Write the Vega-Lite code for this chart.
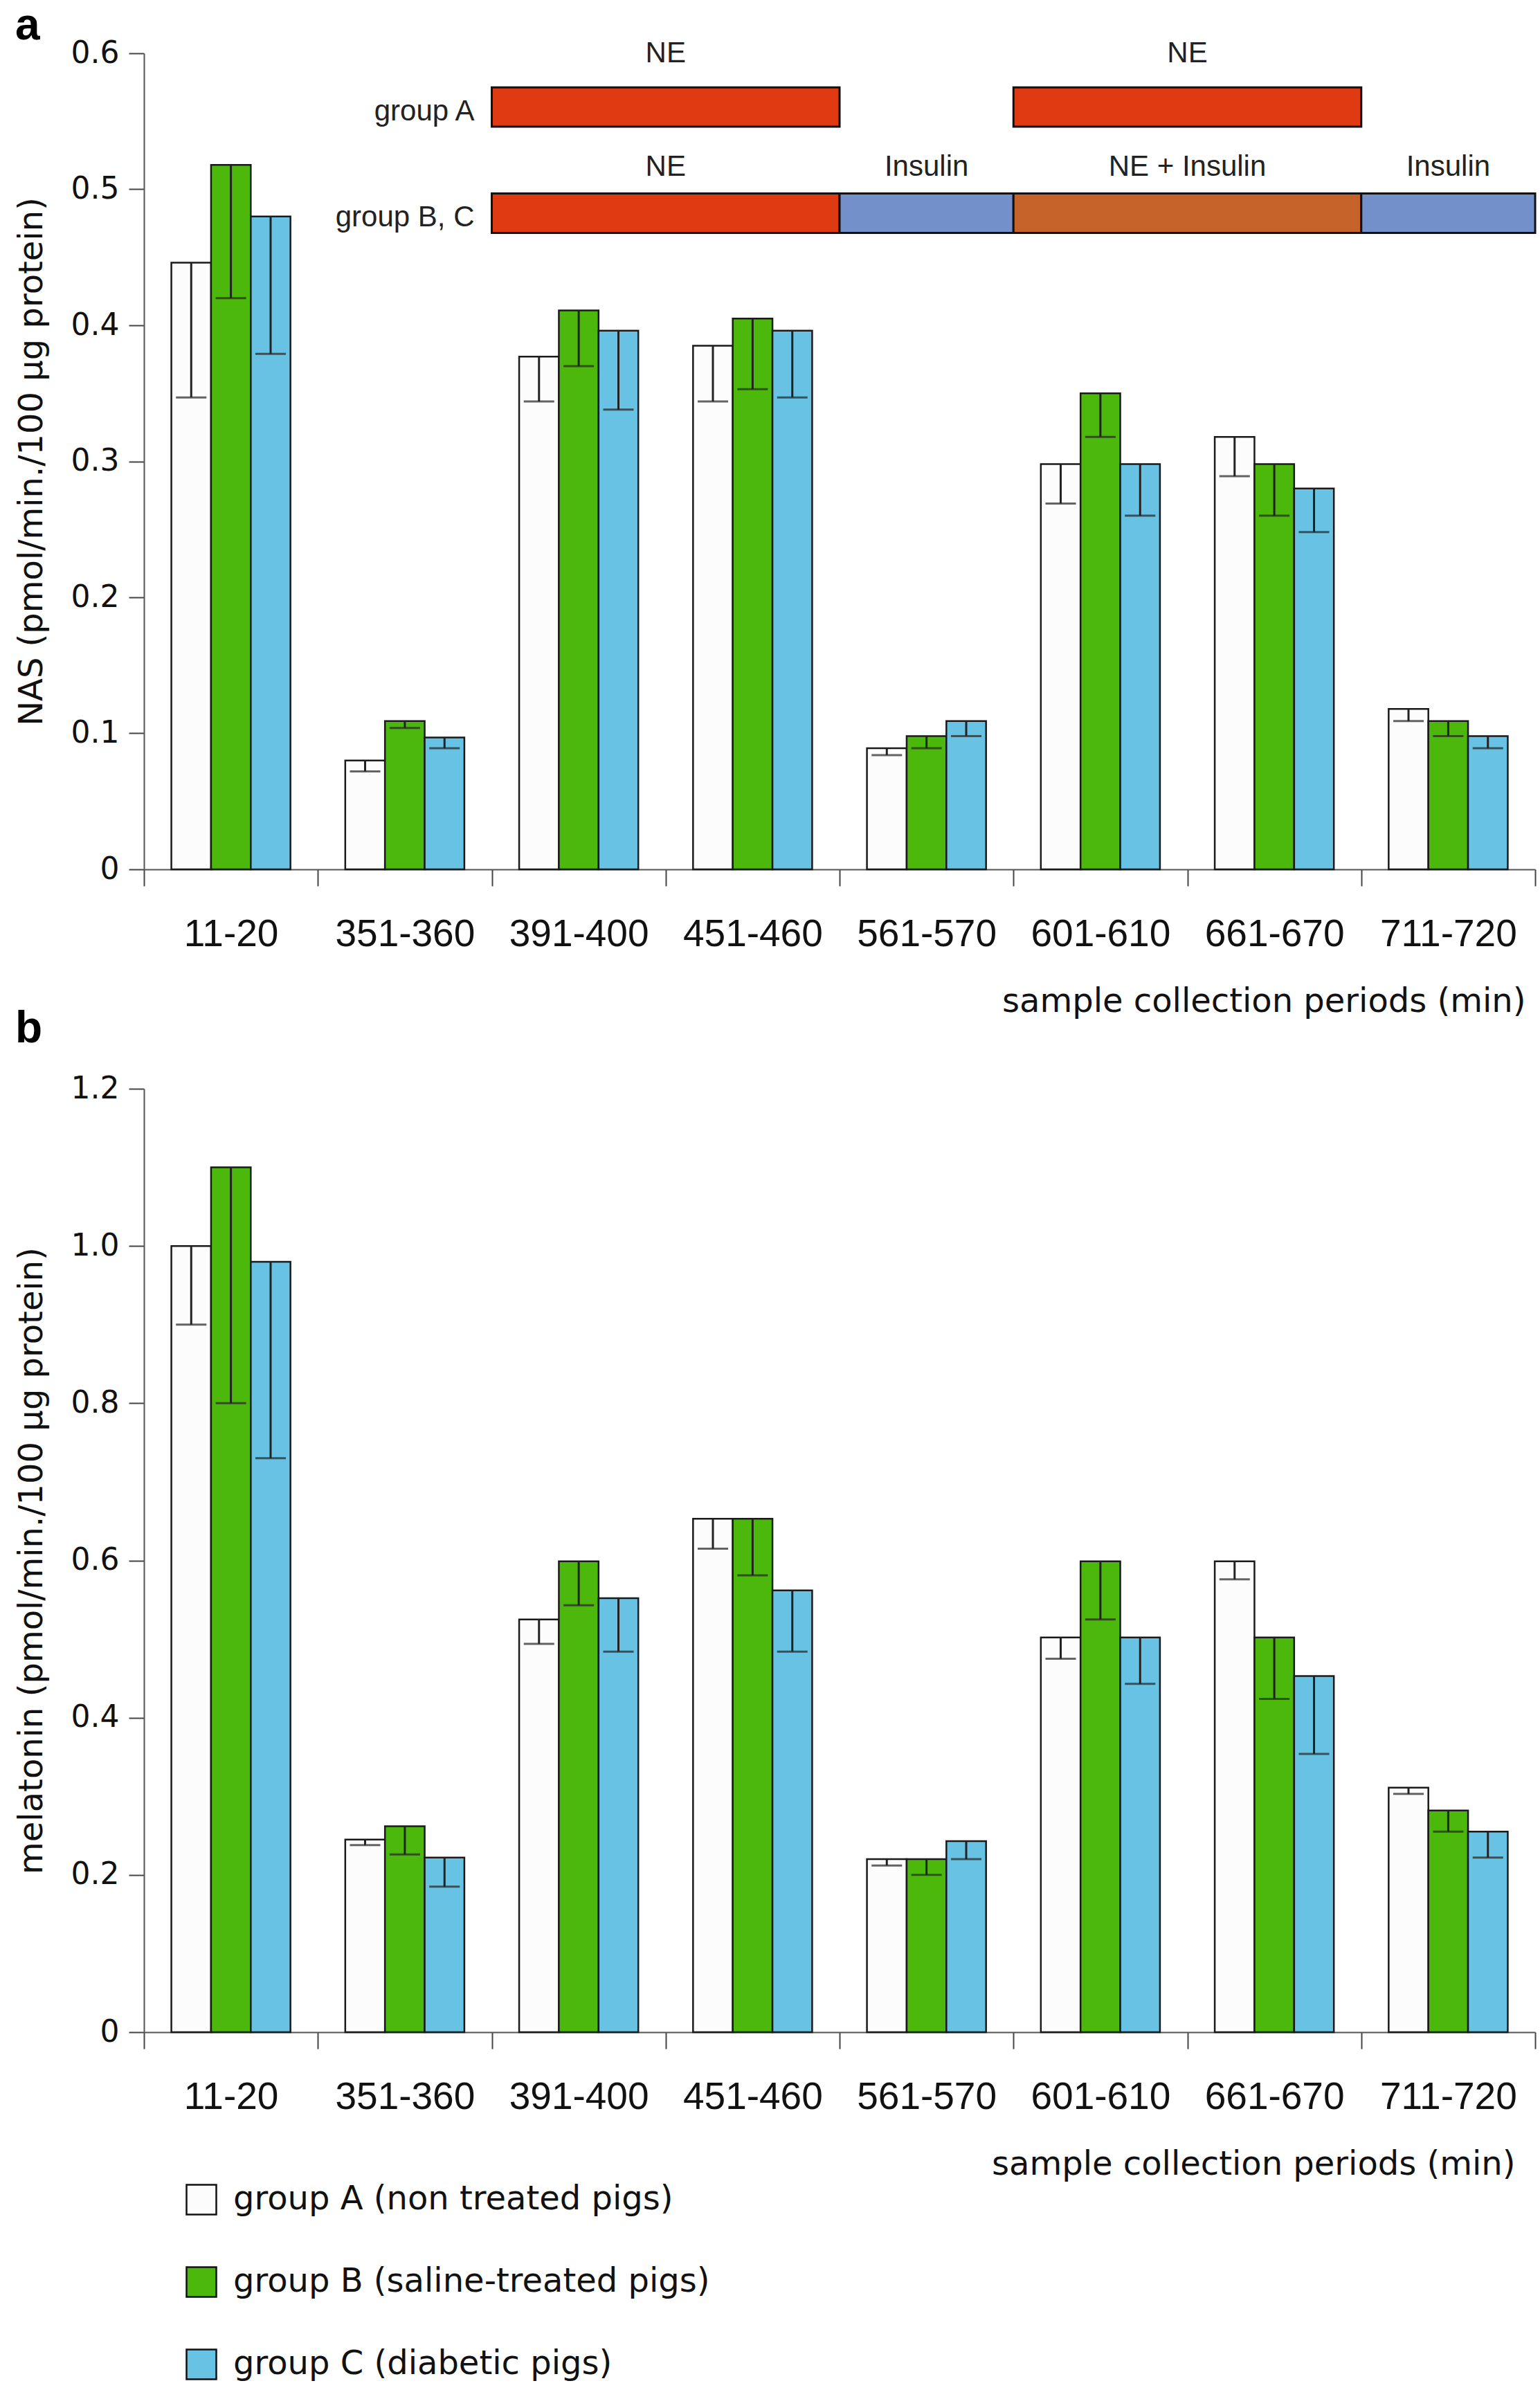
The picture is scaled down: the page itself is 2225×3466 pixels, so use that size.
{
  "$schema": "https://vega.github.io/schema/vega-lite/v6.json",
  "padding": {"left": 22, "top": 6, "right": 0, "bottom": 0},
  "background": "white",
  "datasets": {
    "nas": [
      {"period": "11-20", "group": "group A (non treated pigs)", "value": 0.446, "low": 0.347},
      {"period": "11-20", "group": "group B (saline-treated pigs)", "value": 0.518, "low": 0.420},
      {"period": "11-20", "group": "group C (diabetic pigs)", "value": 0.480, "low": 0.379},
      {"period": "351-360", "group": "group A (non treated pigs)", "value": 0.080, "low": 0.072},
      {"period": "351-360", "group": "group B (saline-treated pigs)", "value": 0.109, "low": 0.104},
      {"period": "351-360", "group": "group C (diabetic pigs)", "value": 0.097, "low": 0.089},
      {"period": "391-400", "group": "group A (non treated pigs)", "value": 0.377, "low": 0.344},
      {"period": "391-400", "group": "group B (saline-treated pigs)", "value": 0.411, "low": 0.370},
      {"period": "391-400", "group": "group C (diabetic pigs)", "value": 0.396, "low": 0.338},
      {"period": "451-460", "group": "group A (non treated pigs)", "value": 0.385, "low": 0.344},
      {"period": "451-460", "group": "group B (saline-treated pigs)", "value": 0.405, "low": 0.353},
      {"period": "451-460", "group": "group C (diabetic pigs)", "value": 0.396, "low": 0.347},
      {"period": "561-570", "group": "group A (non treated pigs)", "value": 0.089, "low": 0.084},
      {"period": "561-570", "group": "group B (saline-treated pigs)", "value": 0.098, "low": 0.089},
      {"period": "561-570", "group": "group C (diabetic pigs)", "value": 0.109, "low": 0.098},
      {"period": "601-610", "group": "group A (non treated pigs)", "value": 0.298, "low": 0.269},
      {"period": "601-610", "group": "group B (saline-treated pigs)", "value": 0.350, "low": 0.318},
      {"period": "601-610", "group": "group C (diabetic pigs)", "value": 0.298, "low": 0.260},
      {"period": "661-670", "group": "group A (non treated pigs)", "value": 0.318, "low": 0.289},
      {"period": "661-670", "group": "group B (saline-treated pigs)", "value": 0.298, "low": 0.260},
      {"period": "661-670", "group": "group C (diabetic pigs)", "value": 0.280, "low": 0.248},
      {"period": "711-720", "group": "group A (non treated pigs)", "value": 0.118, "low": 0.109},
      {"period": "711-720", "group": "group B (saline-treated pigs)", "value": 0.109, "low": 0.098},
      {"period": "711-720", "group": "group C (diabetic pigs)", "value": 0.098, "low": 0.089}
    ],
    "melatonin": [
      {"period": "11-20", "group": "group A (non treated pigs)", "value": 1.0, "low": 0.90},
      {"period": "11-20", "group": "group B (saline-treated pigs)", "value": 1.10, "low": 0.80},
      {"period": "11-20", "group": "group C (diabetic pigs)", "value": 0.98, "low": 0.73},
      {"period": "351-360", "group": "group A (non treated pigs)", "value": 0.245, "low": 0.238},
      {"period": "351-360", "group": "group B (saline-treated pigs)", "value": 0.262, "low": 0.226},
      {"period": "351-360", "group": "group C (diabetic pigs)", "value": 0.222, "low": 0.185},
      {"period": "391-400", "group": "group A (non treated pigs)", "value": 0.525, "low": 0.494},
      {"period": "391-400", "group": "group B (saline-treated pigs)", "value": 0.599, "low": 0.543},
      {"period": "391-400", "group": "group C (diabetic pigs)", "value": 0.552, "low": 0.484},
      {"period": "451-460", "group": "group A (non treated pigs)", "value": 0.653, "low": 0.615},
      {"period": "451-460", "group": "group B (saline-treated pigs)", "value": 0.653, "low": 0.581},
      {"period": "451-460", "group": "group C (diabetic pigs)", "value": 0.562, "low": 0.484},
      {"period": "561-570", "group": "group A (non treated pigs)", "value": 0.220, "low": 0.212},
      {"period": "561-570", "group": "group B (saline-treated pigs)", "value": 0.220, "low": 0.200},
      {"period": "561-570", "group": "group C (diabetic pigs)", "value": 0.243, "low": 0.220},
      {"period": "601-610", "group": "group A (non treated pigs)", "value": 0.502, "low": 0.475},
      {"period": "601-610", "group": "group B (saline-treated pigs)", "value": 0.599, "low": 0.525},
      {"period": "601-610", "group": "group C (diabetic pigs)", "value": 0.502, "low": 0.443},
      {"period": "661-670", "group": "group A (non treated pigs)", "value": 0.599, "low": 0.576},
      {"period": "661-670", "group": "group B (saline-treated pigs)", "value": 0.502, "low": 0.424},
      {"period": "661-670", "group": "group C (diabetic pigs)", "value": 0.453, "low": 0.354},
      {"period": "711-720", "group": "group A (non treated pigs)", "value": 0.311, "low": 0.303},
      {"period": "711-720", "group": "group B (saline-treated pigs)", "value": 0.282, "low": 0.255},
      {"period": "711-720", "group": "group C (diabetic pigs)", "value": 0.255, "low": 0.222}
    ],
    "timeline": [
      {"row": "group A", "treatment": "NE", "start": 2, "end": 4, "mid": 3, "ylo": 0.546, "yhi": 0.575},
      {"row": "group A", "treatment": "NE", "start": 5, "end": 7, "mid": 6, "ylo": 0.546, "yhi": 0.575},
      {"row": "group B, C", "treatment": "NE", "start": 2, "end": 4, "mid": 3, "ylo": 0.468, "yhi": 0.497},
      {"row": "group B, C", "treatment": "Insulin", "start": 4, "end": 5, "mid": 4.5, "ylo": 0.468, "yhi": 0.497},
      {"row": "group B, C", "treatment": "NE + Insulin", "start": 5, "end": 7, "mid": 6, "ylo": 0.468, "yhi": 0.497},
      {"row": "group B, C", "treatment": "Insulin", "start": 7, "end": 8, "mid": 7.5, "ylo": 0.468, "yhi": 0.497}
    ]
  },
  "config": {
    "view": {"stroke": null},
    "axis": {
      "grid": false,
      "domainColor": "#555555",
      "domainWidth": 2,
      "tickColor": "#444444",
      "tickWidth": 2,
      "labelColor": "#111111",
      "titleColor": "#111111",
      "titleFont": "DejaVu Sans",
      "titleFontSize": 48,
      "titleFontWeight": "normal",
      "labelLimit": 0
    },
    "axisX": {"labelFont": "Liberation Sans", "labelFontSize": 55, "tickSize": 24, "labelPadding": 43, "titlePadding": 46, "titleAlign": "right"},
    "axisY": {"labelFont": "DejaVu Sans", "labelFontSize": 44, "tickSize": 22, "labelPadding": 14, "titlePadding": 32},
    "title": {"font": "Liberation Sans", "fontSize": 64, "fontWeight": "bold", "anchor": "start", "frame": "bounds", "color": "#000000"},
    "concat": {"spacing": -16},
    "legend": {
      "orient": "none",
      "legendX": 59,
      "legendY": 3077,
      "direction": "vertical",
      "padding": 0,
      "symbolType": "square",
      "symbolSize": 1850,
      "symbolStrokeColor": "#111111",
      "symbolStrokeWidth": 2.5,
      "symbolOpacity": 1,
      "labelFont": "DejaVu Sans",
      "labelFontSize": 48,
      "labelColor": "#111111",
      "labelOffset": 22,
      "labelLimit": 0,
      "rowPadding": 65
    }
  },
  "vconcat": [
    {
      "title": {"text": "a", "offset": -15},
      "width": 2010,
      "height": 1179,
      "layer": [
        {
          "data": {"name": "nas"},
          "encoding": {
            "x": {
              "field": "period", "type": "nominal", "sort": null,
              "scale": {"paddingInner": 0, "paddingOuter": 0},
              "axis": {"title": "sample collection periods (min)", "titleAnchor": "end", "titleX": 1996, "tickBand": "extent", "labelAngle": 0}
            },
            "xOffset": {"field": "group", "type": "nominal", "sort": null, "scale": {"paddingInner": 0, "paddingOuter": 0.69}},
            "y": {
              "field": "value", "type": "quantitative",
              "scale": {"domain": [0, 0.6], "nice": false},
              "axis": {
                "title": "NAS (pmol/min./100 µg protein)",
                "values": [0, 0.1, 0.2, 0.3, 0.4, 0.5, 0.6],
                "labelExpr": "datum.value == 0 ? '0' : format(datum.value, '.1f')"
              }
            }
          },
          "layer": [
            {
              "mark": {"type": "bar", "stroke": "#1a1a1a", "strokeWidth": 2.5},
              "encoding": {
                "color": {
                  "field": "group", "type": "nominal", "title": null,
                  "scale": {
                    "domain": ["group A (non treated pigs)", "group B (saline-treated pigs)", "group C (diabetic pigs)"],
                    "range": ["#fcfcfc", "#4db80c", "#68c2e4"]
                  }
                }
              }
            },
            {
              "mark": {"type": "rule", "color": "#222222", "strokeWidth": 3},
              "encoding": {"y2": {"field": "low"}}
            },
            {
              "mark": {"type": "tick", "color": "#222222", "thickness": 3, "size": 44},
              "encoding": {"y": {"field": "low", "type": "quantitative"}}
            }
          ]
        },
        {
          "data": {"name": "timeline"},
          "encoding": {
            "x": {"field": "start", "type": "quantitative", "scale": {"domain": [0, 8], "nice": false, "zero": false}, "axis": null}
          },
          "layer": [
            {
              "mark": {"type": "rect", "stroke": "#111111", "strokeWidth": 3},
              "encoding": {
                "x2": {"field": "end"},
                "y": {"field": "ylo", "type": "quantitative"},
                "y2": {"field": "yhi"},
                "fill": {
                  "field": "treatment", "type": "nominal", "legend": null,
                  "scale": {"domain": ["NE", "Insulin", "NE + Insulin"], "range": ["#e03a12", "#7390cb", "#c5632b"]}
                }
              }
            },
            {
              "transform": [{"filter": "datum.row == 'group A'"}],
              "mark": {"type": "text", "font": "Liberation Sans", "fontSize": 42, "color": "#222222", "baseline": "middle", "dy": -49},
              "encoding": {
                "x": {"field": "mid", "type": "quantitative"},
                "y": {"field": "yhi", "type": "quantitative"},
                "text": {"field": "treatment"}
              }
            },
            {
              "transform": [{"filter": "datum.row == 'group B, C'"}],
              "mark": {"type": "text", "font": "Liberation Sans", "fontSize": 42, "color": "#222222", "baseline": "middle", "dy": -38},
              "encoding": {
                "x": {"field": "mid", "type": "quantitative"},
                "y": {"field": "yhi", "type": "quantitative"},
                "text": {"field": "treatment"}
              }
            },
            {
              "transform": [{"filter": "datum.start == 2"}],
              "mark": {"type": "text", "font": "Liberation Sans", "fontSize": 42, "color": "#222222", "baseline": "middle", "align": "right", "dx": -25, "dy": -22},
              "encoding": {
                "y": {"field": "ylo", "type": "quantitative"},
                "text": {"field": "row"}
              }
            }
          ]
        }
      ],
      "resolve": {"scale": {"x": "independent"}}
    },
    {
      "title": {"text": "b", "offset": 32},
      "width": 2010,
      "height": 1363,
      "data": {"name": "melatonin"},
      "encoding": {
        "x": {
          "field": "period", "type": "nominal", "sort": null,
          "scale": {"paddingInner": 0, "paddingOuter": 0},
          "axis": {"title": "sample collection periods (min)", "titleAnchor": "end", "titleX": 1981, "tickBand": "extent", "labelAngle": 0}
        },
        "xOffset": {"field": "group", "type": "nominal", "sort": null, "scale": {"paddingInner": 0, "paddingOuter": 0.69}},
        "y": {
          "field": "value", "type": "quantitative",
          "scale": {"domain": [0, 1.2], "nice": false},
          "axis": {
            "title": "melatonin (pmol/min./100 µg protein)",
            "values": [0, 0.2, 0.4, 0.6, 0.8, 1.0, 1.2],
            "labelExpr": "datum.value == 0 ? '0' : format(datum.value, '.1f')"
          }
        }
      },
      "layer": [
        {
          "mark": {"type": "bar", "stroke": "#1a1a1a", "strokeWidth": 2.5},
          "encoding": {
            "color": {
              "field": "group", "type": "nominal", "title": null,
              "scale": {
                "domain": ["group A (non treated pigs)", "group B (saline-treated pigs)", "group C (diabetic pigs)"],
                "range": ["#fcfcfc", "#4db80c", "#68c2e4"]
              }
            }
          }
        },
        {
          "mark": {"type": "rule", "color": "#222222", "strokeWidth": 3},
          "encoding": {"y2": {"field": "low"}}
        },
        {
          "mark": {"type": "tick", "color": "#222222", "thickness": 3, "size": 44},
          "encoding": {"y": {"field": "low", "type": "quantitative"}}
        }
      ]
    }
  ]
}
